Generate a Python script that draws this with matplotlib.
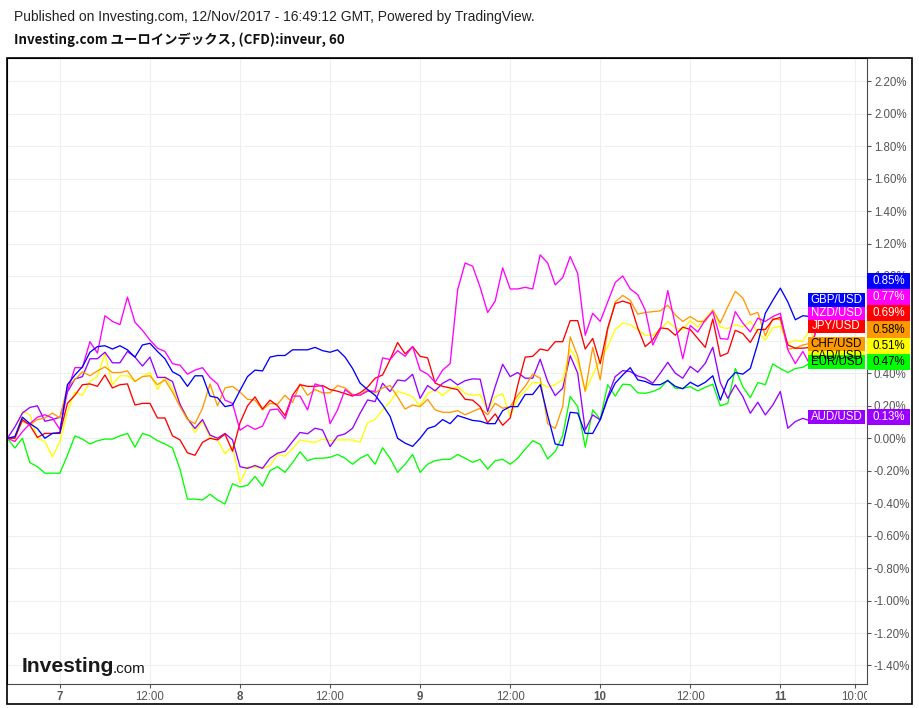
import numpy as np
import matplotlib
matplotlib.use("Agg")
import matplotlib.pyplot as plt
from matplotlib.patches import Rectangle
from matplotlib.transforms import Bbox, TransformedBbox

# hourly % change, first point = 17:00 on day 6, last point hidden behind labels
gbp = [0, 0.01, 0.13, 0.09, 0.06, 0.0, 0.03, 0.035, 0.33, 0.39,
       0.44, 0.53, 0.565, 0.57, 0.55, 0.57, 0.545, 0.50, 0.575, 0.585,
       0.535, 0.49, 0.41, 0.385, 0.32, 0.385, 0.385, 0.26, 0.25, 0.195,
       0.205, 0.295, 0.38, 0.42, 0.415, 0.50, 0.51, 0.51, 0.545, 0.545,
       0.545, 0.56, 0.54, 0.53, 0.545, 0.50, 0.43, 0.34, 0.30, 0.265,
       0.205, 0.135, 0.0, -0.03, -0.05, 0.0, 0.06, 0.075, 0.115, 0.09,
       0.14, 0.125, 0.11, 0.105, 0.09, 0.09, 0.17, 0.195, 0.195, 0.27,
       0.27, 0.33, 0.14, -0.035, -0.045, 0.16, 0.155, 0.03, 0.03, 0.115,
       0.245, 0.34, 0.39, 0.435, 0.36, 0.35, 0.33, 0.33, 0.355, 0.32,
       0.305, 0.345, 0.32, 0.345, 0.385, 0.235, 0.355, 0.405, 0.395, 0.43,
       0.585, 0.77, 0.85, 0.925, 0.84, 0.73, 0.755, 0.75, 0.85]
nzd = [0, -0.02, 0.04, 0.09, 0.13, 0.145, 0.125, 0.055, 0.29, 0.435,
       0.435, 0.595, 0.525, 0.755, 0.72, 0.70, 0.87, 0.715, 0.665, 0.605,
       0.555, 0.535, 0.46, 0.45, 0.395, 0.42, 0.435, 0.375, 0.335, 0.235,
       0.215, 0.05, 0.08, 0.055, 0.075, 0.175, 0.18, 0.12, 0.26, 0.26,
       0.175, 0.335, 0.32, 0.09, 0.175, 0.30, 0.265, 0.265, 0.29, 0.29,
       0.495, 0.485, 0.54, 0.505, 0.565, 0.42, 0.395, 0.345, 0.42, 0.46,
       0.915, 1.08, 1.06, 0.93, 0.775, 0.845, 1.05, 0.92, 0.92, 0.93,
       0.92, 1.13, 1.08, 0.945, 0.99, 1.12, 1.015, 0.635, 0.77, 0.72,
       0.84, 0.96, 1.0, 0.92, 0.885, 0.79, 0.575, 0.67, 0.91, 0.70,
       0.49, 0.695, 0.655, 0.73, 0.78, 0.615, 0.61, 0.78, 0.71, 0.655,
       0.74, 0.72, 0.75, 0.77, 0.545, 0.46, 0.535, 0.45, 0.77]
jpy = [0, 0, 0.115, 0.08, 0.005, 0.03, 0.03, 0.03, 0.215, 0.265,
       0.33, 0.335, 0.32, 0.39, 0.31, 0.33, 0.335, 0.205, 0.215, 0.215,
       0.125, 0.125, 0.015, -0.01, -0.09, -0.105, -0.025, 0.0, -0.01, 0.025,
       -0.08, 0.095, 0.20, 0.255, 0.18, 0.235, 0.20, 0.14, 0.265, 0.33,
       0.32, 0.32, 0.325, 0.30, 0.29, 0.275, 0.26, 0.28, 0.315, 0.37,
       0.39, 0.485, 0.59, 0.52, 0.565, 0.505, 0.495, 0.34, 0.32, 0.31,
       0.30, 0.24, 0.235, 0.195, 0.095, 0.15, 0.08, 0.125, 0.325, 0.50,
       0.505, 0.55, 0.54, 0.595, 0.595, 0.725, 0.725, 0.55, 0.615, 0.46,
       0.68, 0.83, 0.845, 0.83, 0.68, 0.565, 0.605, 0.68, 0.675, 0.635,
       0.685, 0.67, 0.615, 0.56, 0.735, 0.505, 0.525, 0.665, 0.645, 0.59,
       0.67, 0.67, 0.73, 0.745, 0.575, 0.555, 0.555, 0.56, 0.69]
chf = [0, 0.01, 0.105, 0.085, 0.115, 0.125, 0.155, 0.125, 0.32, 0.36,
       0.41, 0.385, 0.415, 0.44, 0.405, 0.405, 0.415, 0.35, 0.38, 0.385,
       0.33, 0.36, 0.285, 0.195, 0.115, 0.09, 0.185, 0.335, 0.20, 0.31,
       0.32, 0.285, 0.24, 0.235, 0.175, 0.215, 0.21, 0.265, 0.22, 0.335,
       0.265, 0.30, 0.28, 0.28, 0.325, 0.31, 0.27, 0.265, 0.30, 0.28,
       0.31, 0.325, 0.255, 0.18, 0.205, 0.195, 0.24, 0.175, 0.16, 0.16,
       0.17, 0.145, 0.165, 0.185, 0.145, 0.215, 0.185, 0.195, 0.265, 0.32,
       0.395, 0.37, 0.09, 0.06, 0.195, 0.625, 0.505, 0.29, 0.56, 0.36,
       0.67, 0.84, 0.88, 0.85, 0.765, 0.775, 0.78, 0.785, 0.82, 0.76,
       0.72, 0.75, 0.72, 0.72, 0.79, 0.71, 0.81, 0.905, 0.865, 0.76,
       0.775, 0.63, 0.74, 0.73, 0.55, 0.555, 0.575, 0.585, 0.58]
cad = [0, -0.02, 0.165, 0.145, 0.0, -0.02, -0.115, -0.02, 0.165, 0.285,
       0.265, 0.35, 0.38, 0.525, 0.33, 0.385, 0.385, 0.35, 0.38, 0.405,
       0.30, 0.38, 0.31, 0.205, 0.13, 0.035, 0.105, 0.005, -0.01, -0.095,
       -0.05, -0.275, -0.175, -0.18, -0.185, -0.17, -0.10, -0.11, -0.065, -0.01,
       -0.02, -0.025, -0.005, -0.015, -0.01, -0.01, -0.01, -0.025, 0.095, 0.115,
       0.175, 0.225, 0.29, 0.275, 0.255, 0.20, 0.275, 0.30, 0.265, 0.30,
       0.32, 0.275, 0.265, 0.27, 0.17, 0.255, 0.275, 0.135, 0.245, 0.29,
       0.345, 0.34, 0.315, 0.33, 0.36, 0.55, 0.47, 0.29, 0.39, 0.485,
       0.565, 0.67, 0.71, 0.70, 0.67, 0.635, 0.635, 0.67, 0.72, 0.68,
       0.67, 0.725, 0.685, 0.74, 0.79, 0.685, 0.675, 0.70, 0.685, 0.72,
       0.655, 0.605, 0.68, 0.69, 0.585, 0.605, 0.595, 0.68, 0.51]
eur = [0, -0.06, 0.0, -0.15, -0.175, -0.215, -0.215, -0.215, -0.105, 0.015,
       -0.005, -0.035, -0.015, -0.005, -0.005, 0.015, 0.03, -0.055, 0.03, 0.015,
       -0.015, -0.035, -0.06, -0.19, -0.375, -0.375, -0.38, -0.345, -0.38, -0.405,
       -0.28, -0.30, -0.29, -0.235, -0.295, -0.20, -0.175, -0.21, -0.15, -0.083,
       -0.138, -0.123, -0.123, -0.117, -0.10, -0.123, -0.16, -0.123, -0.10, -0.16,
       -0.058, -0.123, -0.21, -0.16, -0.10, -0.21, -0.16, -0.138, -0.13, -0.13,
       -0.10, -0.123, -0.148, -0.13, -0.19, -0.138, -0.13, -0.16, -0.123, -0.068,
       -0.015, -0.037, -0.127, -0.082, 0.016, 0.257, 0.195, -0.055, 0.175, 0.117,
       0.33, 0.26, 0.333, 0.33, 0.28, 0.277, 0.288, 0.308, 0.36, 0.308,
       0.308, 0.318, 0.292, 0.314, 0.333, 0.20, 0.215, 0.43, 0.318, 0.25,
       0.343, 0.33, 0.458, 0.43, 0.405, 0.43, 0.437, 0.466, 0.47]
aud = [0, 0.07, 0.155, 0.19, 0.20, 0.105, 0.115, 0.13, 0.285, 0.365,
       0.38, 0.49, 0.49, 0.53, 0.465, 0.465, 0.535, 0.50, 0.445, 0.50,
       0.375, 0.375, 0.35, 0.21, 0.12, 0.06, 0.115, 0.02, 0.0, 0.03,
       -0.01, -0.175, -0.185, -0.168, -0.185, -0.123, -0.092, -0.08, -0.02, 0.036,
       0.028, 0.062, 0.051, -0.051, 0.014, 0.027, 0.062, 0.154, 0.236, 0.226,
       0.339, 0.288, 0.359, 0.353, 0.394, 0.246, 0.325, 0.292, 0.339, 0.364,
       0.329, 0.355, 0.366, 0.364, 0.164, 0.318, 0.456, 0.38, 0.405, 0.37,
       0.37, 0.487, 0.349, 0.263, 0.308, 0.509, 0.401, 0.051, 0.144, 0.113,
       0.257, 0.38, 0.417, 0.411, 0.384, 0.37, 0.339, 0.401, 0.468, 0.401,
       0.37, 0.442, 0.407, 0.462, 0.561, 0.343, 0.246, 0.329, 0.257, 0.154,
       0.222, 0.144, 0.205, 0.288, 0.062, 0.103, 0.123, 0.107, 0.13]

names = ["EUR/USD", "CAD/USD", "AUD/USD", "CHF/USD", "JPY/USD", "NZD/USD", "GBP/USD"]
series = [eur, cad, aud, chf, jpy, nzd, gbp]
colors = ["#00ff00", "#ffff00", "#9900ff", "#ff9900", "#ff0000", "#ff00ff", "#0000ff"]
text_cols = ["black", "black", "white", "black", "white", "white", "white"]

xtick_pos = [7, 19, 31, 43, 55, 67, 79, 91, 103, 113]
xtick_lab = ["7", "12:00", "8", "12:00", "9", "12:00", "10", "12:00", "11", "10:00"]
yticks = np.round(np.arange(-1.4, 2.21, 0.2), 2) + 0.0

W, H = 920, 708
fig = plt.figure(figsize=(W / 100, H / 100), dpi=100)
ax = fig.add_axes([7 / W, 24 / H, 860 / W, 626 / H])

for s, c in zip(series, colors):
    ax.plot(np.arange(len(s)), s, color=c, lw=0.95, zorder=3)

ax.set_xlim(-0.05, 114.55)
ax.set_ylim(-1.514, 2.343)
ax.set_xticks(xtick_pos)
ax.set_xticklabels(xtick_lab)
for lab in ax.get_xticklabels():
    if ":" not in lab.get_text():
        lab.set_fontweight("bold")
ax.set_yticks(yticks)
ax.set_yticklabels([f"{abs(v) if abs(v) < 1e-9 else v:.2f}%" for v in yticks])
ax.yaxis.tick_right()
ax.grid(True, color="#efefef", lw=0.8, zorder=0)
ax.tick_params(axis="both", direction="out", length=3, width=0.8, color="#555555",
               labelcolor="#555555", labelsize=8.3)
ax.tick_params(axis="y", pad=2)
ax.tick_params(axis="x", pad=2)
for lab in ax.get_xticklabels() + ax.get_yticklabels():
    lab.set_family("Liberation Sans")
for sp in ["left", "top"]:
    ax.spines[sp].set_color("black")
for sp in ["right", "bottom"]:
    ax.spines[sp].set_color("#4a4a4a")

# clip the last x label at the price axis like the original
last = ax.get_xticklabels()[-1]
last.set_clip_box(TransformedBbox(Bbox([[-0.01, -0.2], [1.0, 1.0]]), ax.transAxes))
last.set_clip_on(True)

# outer frame
fig.patches.append(Rectangle((7 / W, 4 / H), 905 / W, 646 / H, transform=fig.transFigure,
                             fill=False, ec="black", lw=1.2))

# header
fig.text(14 / W, 1 - 17 / H,
         "Published on Investing.com, 12/Nov/2017 - 16:49:12 GMT, Powered by TradingView.",
         family="Liberation Sans", fontsize=10.0, color="#222222", va="center")
fig.text(14 / W, 1 - 40 / H, "Investing.com ユーロインデックス, (CFD):inveur, 60",
         family=["Noto Sans CJK JP", "DejaVu Sans"], fontweight="bold", fontsize=9.6,
         color="#111111", va="center")

# logo
fig.text(22 / W, 1 - 666 / H, "Investing", family="Liberation Sans",
         fontweight="bold", fontsize=15.2, color="#1a1a1a", va="center")
fig.text(113 / W, 1 - 669 / H, ".com", family="Liberation Sans",
         fontsize=11, color="#1a1a1a", va="center")


def to_px(v):
    return ax.transData.transform((0, v))[1]


# series name boxes at the last value
order = [1, 0, 2, 3, 4, 5, 6]
for i in order:
    yp = to_px(series[i][-1])
    fig.patches.append(Rectangle((808 / W, (yp - 7) / H), 57 / W, 14 / H,
                                 transform=fig.transFigure, fc=colors[i], ec="none", zorder=5))
    fig.text(836.5 / W, yp / H, names[i], ha="center", va="center", fontsize=8.3,
             family="Liberation Sans", color=text_cols[i], zorder=6)

# value boxes on the price axis, stacked upward to avoid overlap
step = 16.2
prev = -1e9
spans = []
for i in sorted(range(len(series)), key=lambda k: series[k][-1]):
    yp = max(to_px(series[i][-1]), prev + step)
    prev = yp
    lo, hi = yp - step / 2, yp + step / 2
    if spans and lo <= spans[-1][1] + 0.5:
        spans[-1] = (spans[-1][0], hi)
    else:
        spans.append((lo, hi))
    fig.patches.append(Rectangle((867 / W, lo / H), 43 / W, step / H,
                                 transform=fig.transFigure, fc=colors[i], ec="none", zorder=5))
    fig.text(888.5 / W, yp / H, f"{series[i][-1]:.2f}%", ha="center", va="center",
             fontsize=8.3, family="Liberation Sans", color=text_cols[i], zorder=6)

# tick labels fully hidden behind the value boxes are not shown
for v, lab in zip(yticks, ax.get_yticklabels()):
    yp = to_px(v)
    if any(yp - 5 >= lo and yp + 5 <= hi for lo, hi in spans):
        lab.set_visible(False)

fig.savefig("out.png", dpi=100)
